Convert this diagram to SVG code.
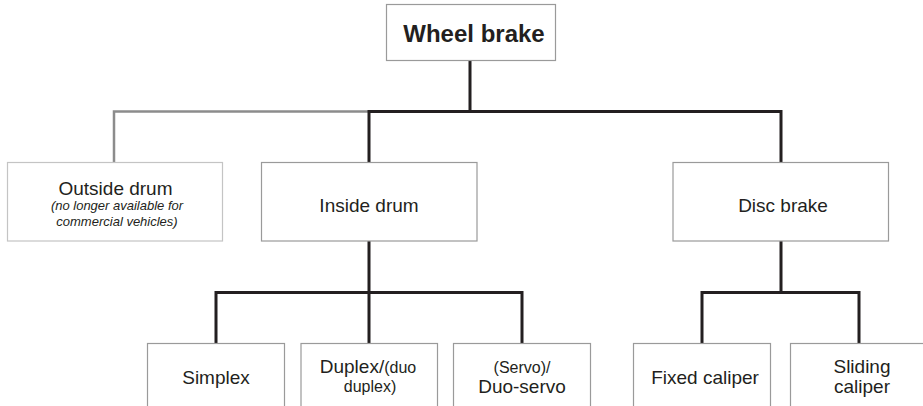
<svg xmlns="http://www.w3.org/2000/svg" width="923" height="406" viewBox="0 0 923 406">
  <style>
    .box { fill: #ffffff; stroke: #9a9a9a; stroke-width: 1.2; }
    .box.faint { stroke: #c4c4c4; }
    .lbl { font-family: "Liberation Sans", Arial, sans-serif; fill: #231f20; text-anchor: middle; }
    .big { font-size: 19px; }
    .small { font-size: 16px; }
    .note { font-size: 13px; font-style: italic; }
    .title { font-size: 24px; font-weight: bold; }
    .link { fill: none; stroke: #231f20; stroke-width: 3; stroke-linejoin: miter; }
    .link.faint { stroke: #8c8c8c; stroke-width: 2.5; }
  </style>

  <rect width="923" height="406" fill="#ffffff"/>

  <!-- connectors -->
  <g id="connectors">
    <path class="link faint" d="M114 162.5 V111.5 H369"/>
    <path class="link" d="M470 60 V111.5 M369 162.5 V111.5 H781 V162.5"/>
    <path class="link" d="M369 241 V292.5 M216 343.5 V292.5 H522 V343.5 M369 292.5 V343.5"/>
    <path class="link" d="M781 241 V292.5 M702 343.5 V292.5 H859 V343.5"/>
  </g>

  <!-- root -->
  <g id="wheel-brake">
    <rect class="box" x="386.5" y="4.5" width="169" height="56"/>
    <text class="lbl title" x="474" y="41.5">Wheel brake</text>
  </g>

  <!-- second level -->
  <g id="outside-drum">
    <rect class="box faint" x="7.5" y="162.5" width="215" height="78.5"/>
    <text class="lbl big" x="115.5" y="195">Outside drum</text>
    <text class="lbl note" x="117" y="210">(no longer available for</text>
    <text class="lbl note" x="117" y="226">commercial vehicles)</text>
  </g>
  <g id="inside-drum">
    <rect class="box" x="261.5" y="162.5" width="215.5" height="78.5"/>
    <text class="lbl big" x="369" y="212">Inside drum</text>
  </g>
  <g id="disc-brake">
    <rect class="box" x="673" y="162.5" width="215.5" height="78.5"/>
    <text class="lbl big" x="783" y="212">Disc brake</text>
  </g>

  <!-- third level -->
  <g id="simplex">
    <rect class="box" x="147.5" y="343.5" width="137" height="70"/>
    <text class="lbl big" x="216" y="383.5">Simplex</text>
  </g>
  <g id="duplex">
    <rect class="box" x="301" y="343.5" width="136.5" height="70"/>
    <text class="lbl" x="368" y="372.5"><tspan class="big">Duplex/</tspan><tspan class="small">(duo</tspan></text>
    <text class="lbl small" x="370" y="391.5">duplex)</text>
  </g>
  <g id="duo-servo">
    <rect class="box" x="453.5" y="343.5" width="137" height="70"/>
    <text class="lbl small" x="522" y="372.5">(Servo)/</text>
    <text class="lbl big" x="522" y="392.5">Duo-servo</text>
  </g>
  <g id="fixed-caliper">
    <rect class="box" x="633.5" y="343.5" width="137" height="70"/>
    <text class="lbl big" x="705" y="383.5">Fixed caliper</text>
  </g>
  <g id="sliding-caliper">
    <rect class="box" x="790.5" y="343.5" width="137" height="70"/>
    <text class="lbl big" x="862" y="373">Sliding</text>
    <text class="lbl big" x="862" y="393">caliper</text>
  </g>
</svg>
